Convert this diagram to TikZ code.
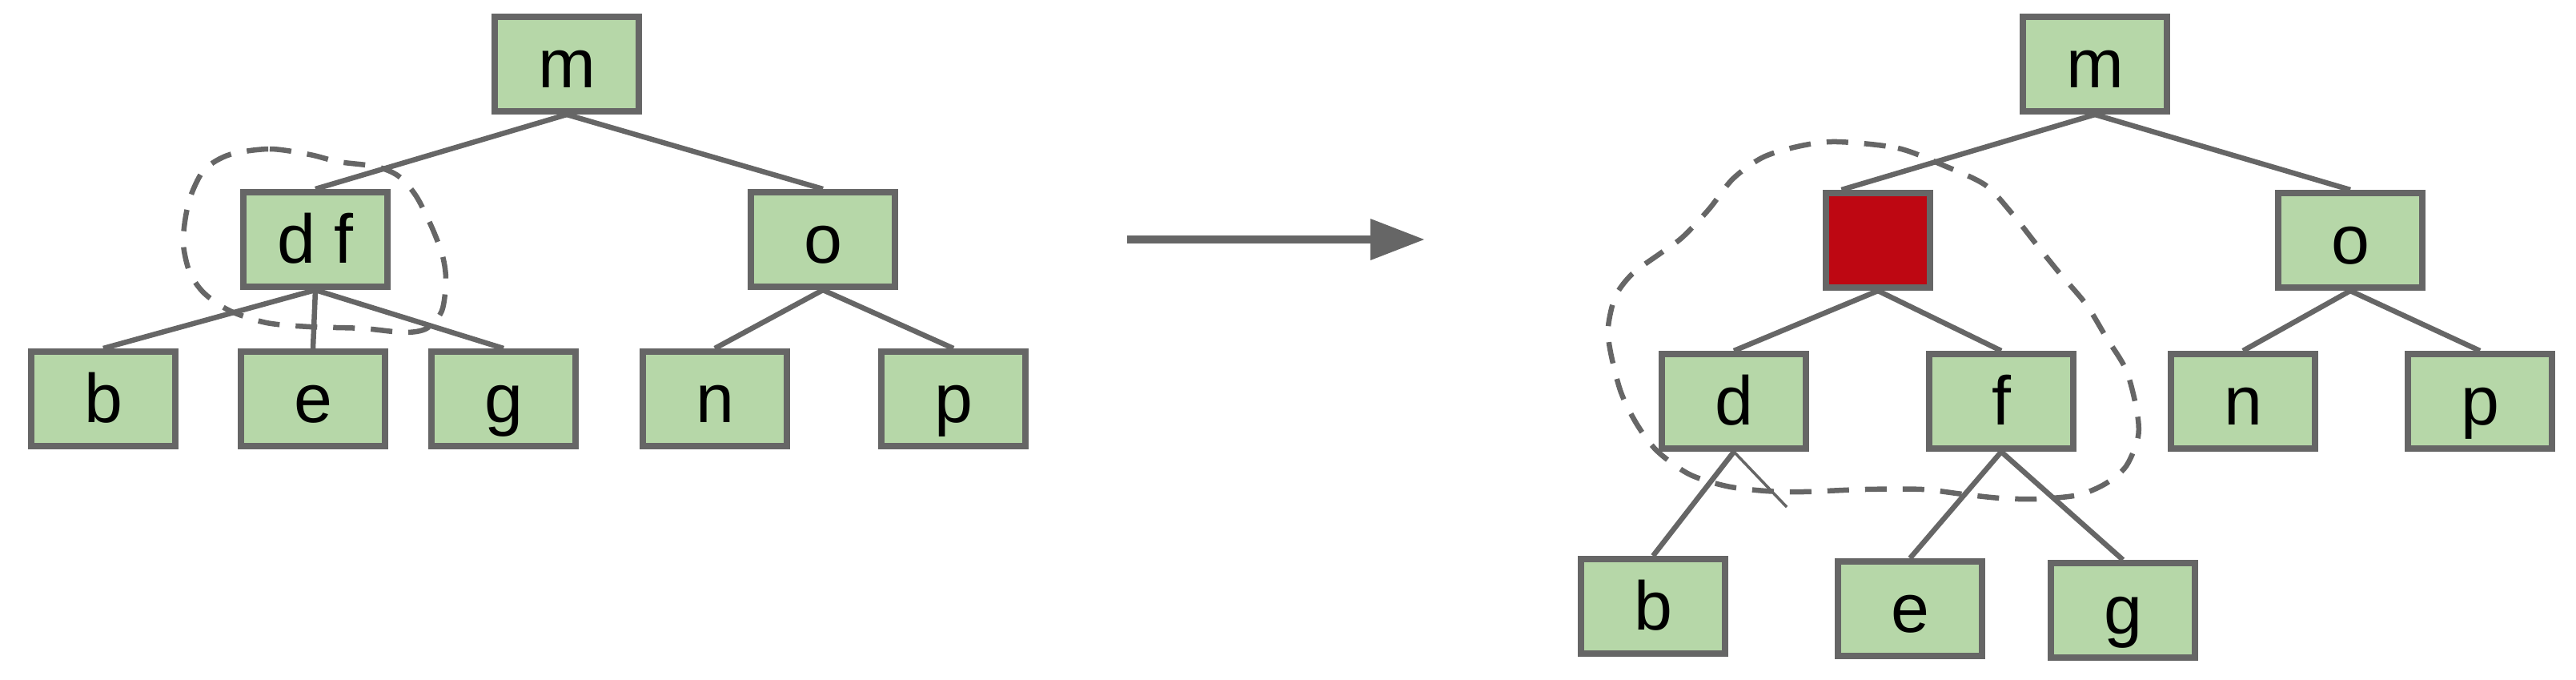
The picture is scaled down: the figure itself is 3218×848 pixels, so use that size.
\documentclass[tikz,border=0pt]{standalone}
\usepackage{fontspec}
\setmainfont{Liberation Sans}
\usetikzlibrary{arrows.meta}
\usetikzlibrary{calc}
\definecolor{keygreen}{HTML}{B6D7A8}
\definecolor{linegray}{HTML}{666666}
\definecolor{berry}{HTML}{BE0712}

\begin{document}
\begin{tikzpicture}[x=0.01cm,y=-0.01cm,
    treenode/.style={draw=linegray,fill=keygreen,line width=0.08cm,minimum width=1.8cm,minimum height=1.18cm,
      inner sep=0pt,text height=0.59cm,text depth=0cm,font=\fontsize{24.5}{29}\selectfont},
    holenode/.style={treenode,fill=berry,minimum width=1.3cm},
    treeedge/.style={draw=linegray,line width=0.065cm},
    blob/.style={draw=linegray,line width=0.065cm,dash pattern=on 0.27cm off 0.2cm}]
    \useasboundingbox (0,0) rectangle (3218,848);
    % before
    \node[treenode] (lm) at (708,80) {m};
    \node[treenode] (ldf) at (394,299) {d f};
    \node[treenode] (lo) at (1028,299) {o};
    \node[treenode] (lb) at (129,498) {b};
    \node[treenode] (le) at (391,498) {e};
    \node[treenode] (lg) at (629,498) {g};
    \node[treenode] (ln) at (893,498) {n};
    \node[treenode] (lp) at (1191,498) {p};
    \draw[treeedge] (lm.south)--(ldf.north);
    \draw[treeedge] (lm.south)--(lo.north);
    \draw[treeedge] (ldf.south)--(lb.north);
    \draw[treeedge] (ldf.south)--(le.north);
    \draw[treeedge] (ldf.south)--(lg.north);
    \draw[treeedge] (lo.south)--(ln.north);
    \draw[treeedge] (lo.south)--(lp.north);
    \draw[blob] plot[smooth cycle] coordinates {(287,193) (337,186) (387,193) (423,202) (470,208) (498,220)
      (520,245) (540,285) (553,320) (557,350) (552,388) (533,410) (505,415) (453,410) (387,408) (333,403)
      (287,388) (255,366) (237,340) (229,305) (232,270) (240,240) (256,211)};
    % arrow
    \coordinate (arrowtail) at (1408,299);
    \coordinate (arrowhead) at (1780,299);
    \draw[linegray,line width=0.1cm,-{Triangle[length=0.68cm,width=0.49cm]}] (arrowtail)--(arrowhead);
    % after
    \node[treenode] (rm) at (2617,80) {m};
    \node[holenode] (rhole) at (2346,300) {};
    \node[treenode] (ro) at (2936,300) {o};
    \node[treenode] (rd) at (2166,501) {d};
    \node[treenode] (rf) at (2500,501) {f};
    \node[treenode] (rn) at (2802,501) {n};
    \node[treenode] (rp) at (3098,501) {p};
    \node[treenode] (rb) at (2065,757) {b};
    \node[treenode] (re) at (2386,760) {e};
    \node[treenode] (rg) at (2652,762) {g};
    \coordinate (rtick) at (2232,633);
    \draw[treeedge] (rm.south)--($(rhole.north west)!0.17!(rhole.north east)$);
    \draw[treeedge] (rm.south)--(ro.north);
    \draw[treeedge] (rhole.south)--(rd.north);
    \draw[treeedge] (rhole.south)--(rf.north);
    \draw[treeedge] (ro.south)--(rn.north);
    \draw[treeedge] (ro.south)--(rp.north);
    \draw[treeedge] (rd.south)--(rb.north);
    \draw[treeedge] (rf.south)--(re.north);
    \draw[treeedge] (rf.south)--(rg.north);
    \draw[draw=linegray,line width=0.035cm] (rd.south)--(rtick);
    \draw[blob] plot[smooth cycle] coordinates {(2295,177) (2371,185) (2429,207) (2480,231) (2513,266)
      (2543,304) (2572,340) (2606,380) (2631,421) (2656,462) (2669,511) (2671,545) (2656,582) (2630,604)
      (2596,618) (2546,623) (2499,622) (2452,617) (2401,611) (2330,611) (2253,614) (2206,613) (2157,607)
      (2110,592) (2070,563) (2045,530) (2025,490) (2012,440) (2009,408) (2018,370) (2039,342) (2076,315)
      (2102,296) (2135,261) (2165,223) (2203,196) (2250,182)};
\end{tikzpicture}
\end{document}
